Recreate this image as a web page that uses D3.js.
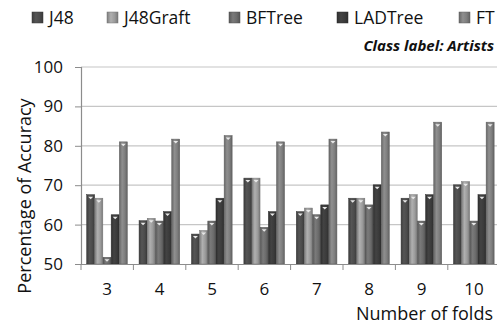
<!DOCTYPE html>
<html>
<head>
<meta charset="utf-8">
<script src="https://cdn.jsdelivr.net/npm/d3@7"></script>
<style>
  body { margin: 0; background: #fff; }
  text { font-family: 'Open Sans', sans-serif; fill: #111; }
</style>
</head>
<body>
<div class="canvas"></div>
<script>
// data
const folds = ['3', '4', '5', '6', '7', '8', '9', '10']
const seriesNames = ['J48', 'J48Graft', 'BFTree', 'LADTree', 'FT']
const j48 = [67.6, 61.0, 57.6, 71.8, 63.3, 66.7, 66.7, 70.1]
const j48Graft = [66.7, 61.6, 58.5, 71.8, 64.2, 66.7, 67.6, 70.9]
const bfTree = [51.7, 60.9, 60.9, 59.3, 62.5, 65.0, 60.9, 60.9]
const ladTree = [62.5, 63.3, 66.7, 63.3, 65.0, 70.1, 67.6, 67.6]
const ft = [81.0, 81.7, 82.6, 81.0, 81.7, 83.5, 86.0, 86.0]
const yTicks = [50, 60, 70, 80, 90, 100]

const seriesValues = [j48, j48Graft, bfTree, ladTree, ft]
const colors = ['#4b4b4b', '#9b9b9b', '#6c6c6c', '#3b3b3b', '#7e7e7e']

const svgWidth = 497, svgHeight = 327
const margin = { top: 67, left: 81, bottom: 63 }
const plotBottom = svgHeight - margin.bottom

const svg = d3.select('.canvas')
  .append('svg')
  .attr('width', svgWidth)
  .attr('height', svgHeight)

// gradients for the shaded bars
const defs = svg.append('defs')
colors.forEach((c, i) => {
  const base = d3.color(c)
  const g = defs.append('linearGradient')
    .attr('id', 'grad' + i)
    .attr('x1', 0).attr('x2', 1).attr('y1', 0).attr('y2', 0)
  g.append('stop').attr('offset', '0%').attr('stop-color', base.darker(0.6))
  g.append('stop').attr('offset', '35%').attr('stop-color', base.brighter(0.35))
  g.append('stop').attr('offset', '70%').attr('stop-color', base)
  g.append('stop').attr('offset', '100%').attr('stop-color', base.darker(0.7))
})

// scales
const x = d3.scaleBand().domain(folds).range([margin.left, margin.left + 8 * 52.4])
const xInner = d3.scaleBand().domain(seriesNames).range([5.5, 46.5]).padding(0.02)
const y = d3.scaleLinear().domain([50, 100]).range([plotBottom, margin.top])

// gridlines
svg.append('g')
  .selectAll('line')
  .data(yTicks.slice(1))
  .enter().append('line')
  .attr('x1', margin.left).attr('x2', svgWidth)
  .attr('y1', d => y(d)).attr('y2', d => y(d))
  .attr('stroke', '#c6c6c6')
  .attr('stroke-width', 1.2)

// bars
const groups = svg.append('g')
  .selectAll('g')
  .data(folds)
  .enter().append('g')
  .attr('transform', d => `translate(${x(d)},0)`)

seriesNames.forEach((name, si) => {
  groups.append('rect')
    .attr('x', xInner(name))
    .attr('width', xInner.bandwidth())
    .attr('y', (d, i) => y(seriesValues[si][i]))
    .attr('height', (d, i) => plotBottom - y(seriesValues[si][i]))
    .attr('fill', `url(#grad${si})`)
    .attr('stroke', d3.color(colors[si]).darker(0.8))
    .attr('stroke-width', 0.5)

  // little highlight triangle at the top of each bar
  groups.append('path')
    .attr('d', (d, i) => {
      const cx = xInner(name) + xInner.bandwidth() / 2
      const ty = y(seriesValues[si][i]) + 2
      return `M${cx - 2.5},${ty} L${cx + 2.5},${ty} L${cx},${ty + 2.5} Z`
    })
    .attr('fill', '#e8e8e8')
})

// axes
const xAxis = d3.axisBottom(x).tickSize(0).tickPadding(19)
const xAxisGroup = svg.append('g')
  .attr('transform', `translate(0, ${plotBottom})`)
  .call(xAxis)
xAxisGroup.select('.domain').attr('stroke', '#8c8c8c').attr('stroke-width', 1.2)
xAxisGroup.selectAll('text').style('font-size', '17px').attr('fill', '#111')
xAxisGroup.selectAll('.sep')
  .data(d3.range(folds.length + 1))
  .enter().append('line')
  .attr('x1', i => margin.left + i * x.step())
  .attr('x2', i => margin.left + i * x.step())
  .attr('y1', 0).attr('y2', 6)
  .attr('stroke', '#8c8c8c')

const yAxis = d3.axisLeft(y).tickValues(yTicks).tickSize(6).tickPadding(12)
const yAxisGroup = svg.append('g')
  .attr('transform', `translate(${margin.left}, 0)`)
  .call(yAxis)
yAxisGroup.select('.domain').attr('stroke', '#8c8c8c').attr('stroke-width', 1.2)
yAxisGroup.selectAll('.tick line').attr('stroke', '#8c8c8c')
yAxisGroup.selectAll('text').style('font-size', '17px').attr('fill', '#111')

// axis titles
svg.append('text')
  .attr('transform', 'translate(25, 196) rotate(-90)')
  .attr('text-anchor', 'middle')
  .attr('dy', '0.35em')
  .style('font-size', '18px')
  .text('Percentage of Accuracy')

svg.append('text')
  .attr('x', 493).attr('y', 320)
  .attr('text-anchor', 'end')
  .style('font-size', '18px')
  .text('Number of folds')

// legend
const legendX = [32, 107, 229, 337, 459]
const legend = svg.append('g')
  .selectAll('g')
  .data(seriesNames)
  .enter().append('g')
  .attr('transform', (d, i) => `translate(${legendX[i]}, 12)`)
legend.append('rect')
  .attr('width', 11).attr('height', 11)
  .attr('fill', (d, i) => `url(#grad${i})`)
  .attr('stroke', (d, i) => d3.color(colors[i]).darker(0.8))
  .attr('stroke-width', 0.5)
legend.append('text')
  .attr('x', 17).attr('y', 12)
  .style('font-size', '17.5px')
  .text(d => d)

svg.append('text')
  .attr('x', 494).attr('y', 51)
  .attr('text-anchor', 'end')
  .style('font-size', '15px')
  .style('font-weight', 'bold')
  .style('font-style', 'italic')
  .text('Class label: Artists')
</script>
</body>
</html>
